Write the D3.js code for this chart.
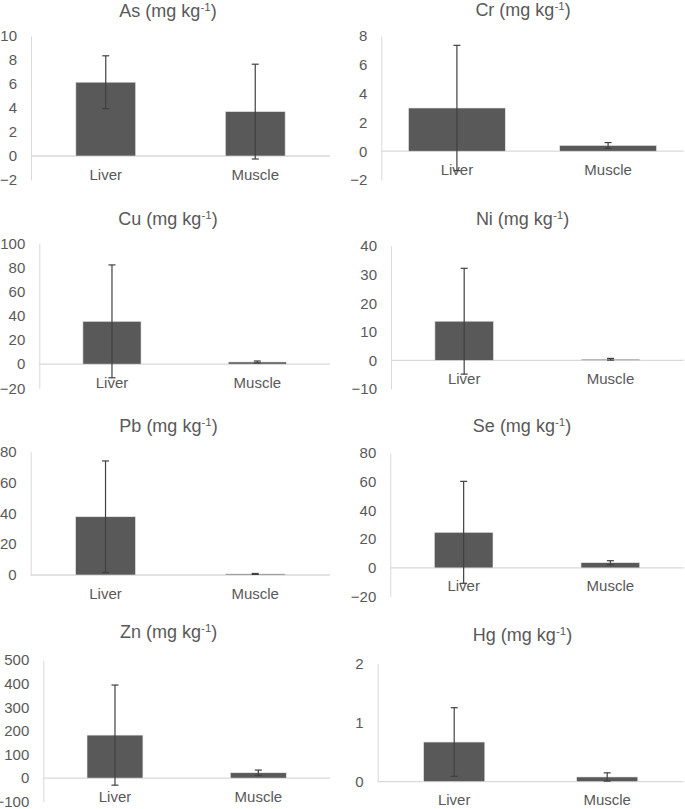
<!DOCTYPE html>
<html>
<head>
<meta charset="utf-8">
<script src="https://cdn.jsdelivr.net/npm/d3@7"></script>
<style>
  html, body { margin: 0; padding: 0; background: #fff; }
  svg { display: block; }
  text { font-family: "Liberation Sans", Arial, sans-serif; fill: #595959; }
</style>
</head>
<body>
<svg id="chart" width="685" height="809"></svg>
<script>
// ---- data ----
const elements   = ["As", "Cr", "Cu", "Ni", "Pb", "Se", "Zn", "Hg"];
const categories = ["Liver", "Muscle"];
const liverMean  = [6.15, 3.0, 35.4, 13.7, 37.8, 24.7, 182, 0.67];
const liverSD    = [2.2, 4.35, 46.7, 18.5, 36.2, 35.4, 212, 0.58];
const muscleMean = [3.7, 0.4, 1.8, 0.4, 0.7, 3.6, 22.5, 0.08];
const muscleSD   = [3.95, 0.2, 0.8, 0.3, 0.3, 1.4, 11.5, 0.07];
const yMin  = [-2, -2, -20, -10, 0, -20, -100, 0];
const yMax  = [10, 8, 100, 40, 80, 80, 500, 2];
const yStep = [2, 2, 20, 10, 20, 20, 100, 1];

// ---- layout (pixel positions of each panel) ----
const axisX   = [31, 381.3, 39.3, 391, 30.7, 390.3, 43.3, 377.7];
const rightX  = [330, 683.7, 330, 683.7, 330, 683.7, 330, 683.7];
const topY    = [36, 36, 243.3, 246, 451.7, 452.7, 660, 663.3];
const bottomY = [180, 180, 388.3, 389, 575, 596.7, 801.7, 781.7];
const titleX  = [168, 523, 168, 522.5, 168.5, 522, 168.7, 522.5];
const titleY  = [17, 16, 225, 225, 432, 432, 638, 641];
const barRatio = [0.4, 0.64, 0.4, 0.4, 0.4, 0.4, 0.39, 0.4];

const svg = d3.select("#chart");
const axisColor = "#d9d9d9";
const barColor = "#595959";
const errColor = "#404040";

elements.forEach((el, i) => {
  const g = svg.append("g");
  const x = d3.scaleBand().domain(categories).range([axisX[i], rightX[i]]).paddingInner(0).paddingOuter(0);
  const y = d3.scaleLinear().domain([yMin[i], yMax[i]]).range([bottomY[i], topY[i]]);
  const ticks = d3.range(yMin[i], yMax[i] + yStep[i] / 2, yStep[i]);

  // title
  const t = g.append("text").attr("x", titleX[i]).attr("y", titleY[i])
    .attr("text-anchor", "middle").style("font-size", "18px");
  t.append("tspan").text(el + " (mg kg");
  t.append("tspan").attr("dy", -6).style("font-size", "11.5px").text("-1");
  t.append("tspan").attr("dy", 6).text(")");

  // y axis (custom-styled d3 axis)
  const yAxis = d3.axisLeft(y).tickValues(ticks).tickSize(0).tickPadding(14)
    .tickFormat(d3.format("d"));
  const ya = g.append("g").attr("transform", `translate(${axisX[i]},0)`).call(yAxis);
  ya.select(".domain").attr("stroke", axisColor).attr("stroke-width", 1);
  ya.selectAll("text").style("font-size", "15px").attr("fill", "#595959")
    .style("font-family", '"Liberation Sans", Arial, sans-serif');

  // zero line
  g.append("line").attr("x1", axisX[i]).attr("x2", rightX[i])
    .attr("y1", y(0)).attr("y2", y(0)).attr("stroke", axisColor).attr("stroke-width", 1.3);

  const means = [liverMean[i], muscleMean[i]];
  const sds = [liverSD[i], muscleSD[i]];
  const bw = x.bandwidth() * barRatio[i];

  categories.forEach((c, j) => {
    const cx = x(c) + x.bandwidth() / 2;
    g.append("rect")
      .attr("x", cx - bw / 2).attr("width", bw)
      .attr("y", y(means[j])).attr("height", y(0) - y(means[j]))
      .attr("fill", barColor).attr("stroke", "#e6e6e6").attr("stroke-width", 0.6);

    // category label at zero line
    g.append("text").attr("x", cx).attr("y", y(0) + 23.5)
      .attr("text-anchor", "middle").style("font-size", "15px").text(c);

    // error bar
    const hi = y(means[j] + sds[j]), lo = y(means[j] - sds[j]);
    g.append("line").attr("x1", cx).attr("x2", cx).attr("y1", hi).attr("y2", lo)
      .attr("stroke", errColor).attr("stroke-width", 1.2);
    [hi, lo].forEach(v => {
      g.append("line").attr("x1", cx - 3.5).attr("x2", cx + 3.5).attr("y1", v).attr("y2", v)
        .attr("stroke", errColor).attr("stroke-width", 1.2);
    });
  });
});
</script>
</body>
</html>
